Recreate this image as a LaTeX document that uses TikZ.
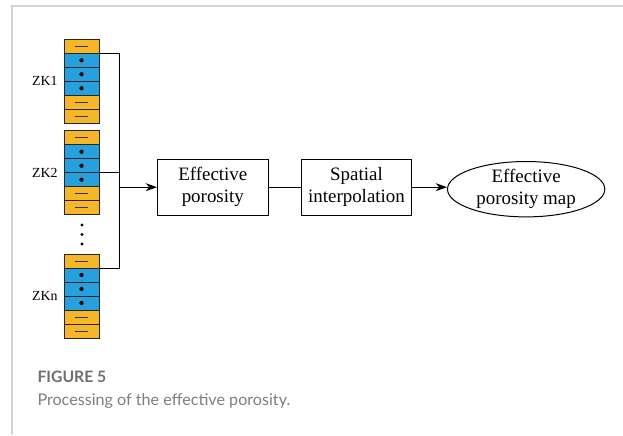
\documentclass[tikz,border=0pt]{standalone}
\usepackage{fontspec}
\setmainfont{Liberation Serif}
\newfontfamily\capfont{Lato}
\usepackage{tikz}
\usetikzlibrary{positioning,arrows.meta,shapes.geometric}

\definecolor{zkorange}{RGB}{245,182,40}
\definecolor{zkblue}{RGB}{40,160,222}
\definecolor{framegray}{RGB}{212,212,212}
\definecolor{capgray}{RGB}{112,112,112}

\begin{document}
\begin{tikzpicture}[x=0.75pt, y=-0.75pt, line width=0.75pt, node distance=24pt,
                    >={Stealth[length=8.5pt,width=6pt]},
                    cell/.style={draw=black!85, minimum width=26.25pt, minimum height=10.5pt, inner sep=0pt, outer sep=0pt},
                    dash cell/.style={cell, fill=zkorange, path picture={\draw[black!80, line width=0.6pt] ([xshift=-5pt]path picture bounding box.center) -- ([xshift=5pt]path picture bounding box.center);}},
                    dot cell/.style={cell, fill=zkblue, path picture={\fill[black] (path picture bounding box.center) circle (1.6pt);}},
                    main node/.style={draw, minimum width=83pt, minimum height=41.8pt, align=center, inner sep=1pt, font=\fontsize{14.2}{16.3}\selectfont},
                    zk label/.style={anchor=east, inner sep=0pt, font=\fontsize{10.4}{12}\selectfont}]

  \useasboundingbox (0,0) rectangle (623,435);

  % frame
  \draw[framegray, line width=1.5pt] (12.3,435) -- (12.3,5.7) -- (623,5.7);

  % boreholes
  \foreach \col/\top in {1/39.3, 2/130.7, n/254}{
    \foreach \k/\s in {1/dash cell, 2/dot cell, 3/dot cell, 4/dot cell, 5/dash cell, 6/dash cell}
      \node[\s] (zk\col-\k) at (81.5, {\top+7+14*(\k-1)}) {};
  }
  \node[zk label] (lab1) at ([xshift=-4.5pt]zk1-3.south west) {ZK1};
  \node[zk label] (lab2) at ([xshift=-4.5pt]zk2-3.south west) {ZK2};
  \node[zk label] (labn) at ([xshift=-4.5pt]zkn-3.south west) {ZKn};

  %vertical dots
  \fill (82,225) circle (1.3pt) (82,234.5) circle (1.3pt) (82,244) circle (1.3pt);

  \node[main node] (eff) at (212.8,187.2) {Effective\\porosity};
  \node[main node] (interp) [right=24pt of eff] {Spatial\\interpolation};
  \node[main node, ellipse, minimum width=118pt, minimum height=40.5pt, inner sep=0pt] (map) [right=26pt of interp, yshift=-1.5pt] {Effective\\porosity map};

  \coordinate (join) at (119.3,187.2);

  \draw (zk1-1.south east) -| (join);
  \draw (zkn-1.south east) -| (join);
  \draw (zk2-3.south east) -- (zk2-3.south east -| join);
  \draw[->] (join) -- (eff);
  \draw (eff) -- (interp);
  \draw[->] (interp) -- (interp -| map.west);

  % caption
  \node[anchor=base west, inner sep=0pt, text=capgray, font=\capfont\bfseries\fontsize{11.8}{14}\selectfont] (figno) at (37,382.5) {FIGURE 5};
  \node[anchor=base west, inner sep=0pt, text=capgray!90, font=\capfont\fontsize{12.1}{14}\selectfont] (figcap) at (37,405) {Processing of the effective porosity.};

\end{tikzpicture}
\end{document}
